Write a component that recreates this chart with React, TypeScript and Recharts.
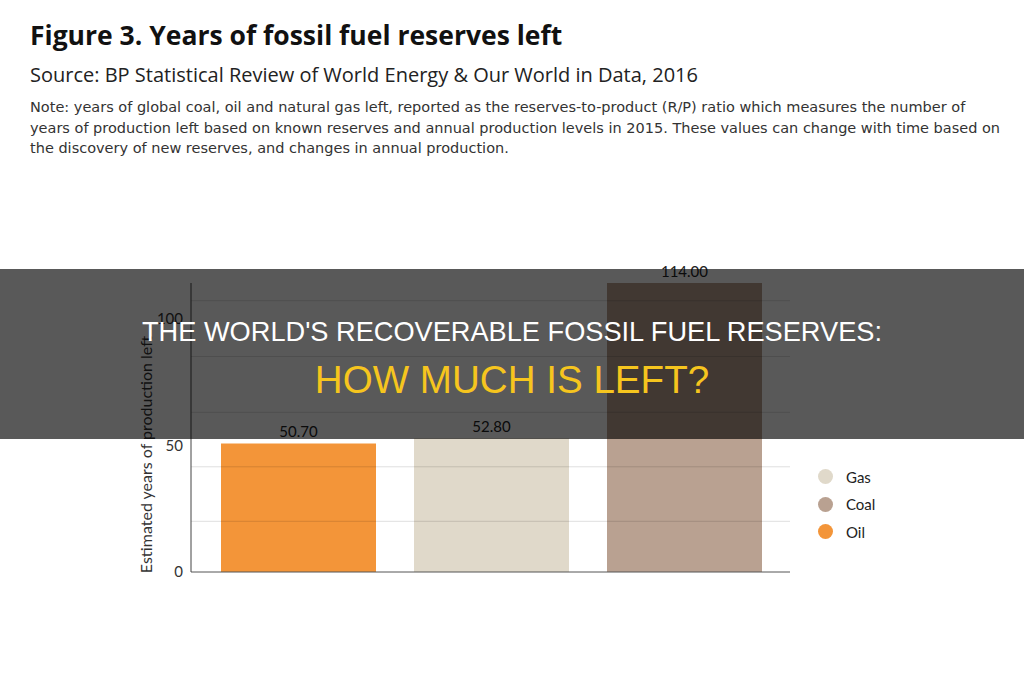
import { BarChart, Bar, XAxis, YAxis, Cell, LabelList, ReferenceLine, Legend } from 'recharts';

// Years of production left (R/P ratio, 2015)
const fuels = ['Oil', 'Gas', 'Coal'];
const yearsLeft = [50.7, 52.8, 114];
const fuelColors = ['#F39539', '#E0D9CA', '#B9A191'];

// axis ticks and the light horizontal guide lines
const yTicks = [0, 50, 100];
const guideValues = [20, 41.5, 63, 85, 107];

// legend lists the fuels top to bottom in this order
const legendOrder = ['Gas', 'Coal', 'Oil'];

const noteLines = [
  'Note: years of global coal, oil and natural gas left, reported as the reserves-to-product (R/P) ratio which measures the number of',
  'years of production left based on known reserves and annual production levels in 2015. These values can change with time based on',
  'the discovery of new reserves, and changes in annual production.',
];

const FONT = 'Lato, "Open Sans", sans-serif';
const HEAD = '"Open Sans", Lato, sans-serif';
const WIDE = '"DejaVu Sans", sans-serif';
const CAPTION = '"Liberation Sans", Arial, sans-serif';

function YTitle(props: any) {
  const { viewBox } = props;
  const cx = viewBox.x + 14;
  const cy = viewBox.y + viewBox.height / 2 + 27;
  return (
    <text
      x={cx}
      y={cy}
      transform={`rotate(-90, ${cx}, ${cy})`}
      textAnchor="middle"
      dominantBaseline="central"
      fill="#333"
      style={{ fontSize: 16, fontFamily: FONT }}
    >
      Estimated years of production left
    </text>
  );
}

function FuelLegend() {
  return (
    <div style={{ fontFamily: FONT }}>
      {legendOrder.map((name) => {
        const color = fuelColors[fuels.indexOf(name)];
        return (
          <div key={name} style={{ display: 'flex', alignItems: 'center', height: 27.5 }}>
            <span
              style={{
                width: 15,
                height: 15,
                borderRadius: '50%',
                background: color,
                display: 'inline-block',
                marginRight: 13,
              }}
            />
            <span style={{ fontSize: 15, color: '#222' }}>{name}</span>
          </div>
        );
      })}
    </div>
  );
}

export default function App() {
  const data = fuels.map((name, i) => ({ name, value: yearsLeft[i] }));

  return (
    <div
      style={{
        position: 'relative',
        width: 1024,
        height: 673,
        background: '#fff',
        overflow: 'hidden',
      }}
    >
      <style>{'body{margin:0}'}</style>

      {/* header */}
      <div
        style={{
          position: 'absolute',
          left: 30,
          top: 21.5,
          fontFamily: HEAD,
          fontWeight: 700,
          fontSize: 26.5,
          lineHeight: '26.5px',
          color: '#111',
          whiteSpace: 'nowrap',
        }}
      >
        Figure 3. Years of fossil fuel reserves left
      </div>
      <div
        style={{
          position: 'absolute',
          left: 30,
          top: 65,
          fontFamily: HEAD,
          fontSize: 20,
          lineHeight: '20px',
          color: '#222',
          whiteSpace: 'nowrap',
        }}
      >
        Source: BP Statistical Review of World Energy &amp; Our World in Data, 2016
      </div>
      <div
        style={{
          position: 'absolute',
          left: 30,
          top: 97,
          fontFamily: WIDE,
          fontSize: 14.5,
          lineHeight: '20.5px',
          color: '#333',
          whiteSpace: 'nowrap',
        }}
      >
        {noteLines.map((line) => (
          <div key={line}>{line}</div>
        ))}
      </div>

      <div style={{ position: 'absolute', left: 0, top: 0 }}>
        <BarChart
          width={1024}
          height={673}
          data={data}
          margin={{ top: 283, right: 144, bottom: 100, left: 131 }}
          barCategoryGap={19}
        >
          <XAxis
            dataKey="name"
            tick={false}
            tickLine={false}
            height={1}
            padding={{ left: 11, right: 9 }}
            axisLine={{ stroke: '#555' }}
          />
          <YAxis
            width={60}
            domain={[0, 114]}
            ticks={yTicks}
            tickLine={false}
            axisLine={{ stroke: '#444' }}
            tick={{ fill: '#333', fontSize: 15, fontFamily: FONT }}
            label={{ content: <YTitle /> }}
          />
          <Bar dataKey="value" isAnimationActive={false}>
            {data.map((d, i) => (
              <Cell key={d.name} fill={fuelColors[i]} />
            ))}
            <LabelList
              dataKey="value"
              position="top"
              offset={6}
              formatter={(v: any) => Number(v).toFixed(2)}
              style={{ fill: '#222', fontSize: 15, fontFamily: FONT }}
            />
          </Bar>
          {guideValues.map((v) => (
            <ReferenceLine key={v} y={v} stroke="rgba(0,0,0,0.13)" strokeWidth={1} />
          ))}
          <Legend
            layout="vertical"
            align="right"
            verticalAlign="middle"
            content={<FuelLegend />}
            wrapperStyle={{ left: 818, top: 463, width: 90 }}
          />
        </BarChart>
      </div>

      {/* dark caption band laid over the figure */}
      <div
        style={{
          position: 'absolute',
          left: 0,
          top: 269,
          width: 1024,
          height: 170,
          background: 'rgba(0,0,0,0.65)',
          fontFamily: CAPTION,
          textAlign: 'center',
        }}
      >
        <div
          style={{
            position: 'absolute',
            left: 0,
            width: 1024,
            top: 49,
            fontSize: 27.2,
            lineHeight: '27.2px',
            color: '#fff',
            whiteSpace: 'nowrap',
          }}
        >
          THE WORLD'S RECOVERABLE FOSSIL FUEL RESERVES:
        </div>
        <div
          style={{
            position: 'absolute',
            left: 0,
            width: 1024,
            top: 92,
            fontSize: 38.6,
            lineHeight: '38.6px',
            color: '#F6C51E',
            whiteSpace: 'nowrap',
          }}
        >
          HOW MUCH IS LEFT?
        </div>
      </div>
    </div>
  );
}
